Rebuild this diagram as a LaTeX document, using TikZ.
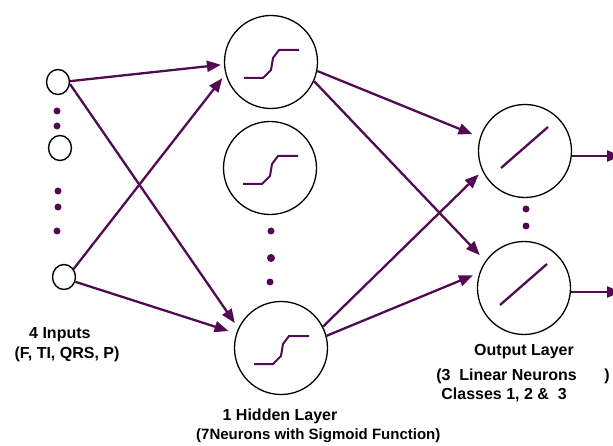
\documentclass[tikz,border=0pt]{standalone}
\usepackage{fontspec}
\setmainfont{Liberation Sans}
\usetikzlibrary{arrows.meta,shapes.geometric}
\definecolor{nnpurple}{RGB}{82,10,82}
\begin{document}
\begin{tikzpicture}[x=1pt,y=-1pt,
  inp/.style={ellipse,draw=black,line width=1.4pt,minimum width=23pt,minimum height=25pt,inner sep=0pt},
  neuron/.style={circle,draw=black,line width=1.3pt,minimum size=93pt,inner sep=0pt},
  conn/.style={draw=nnpurple,line width=2.3pt,-{Triangle[length=14pt,width=11pt]}},
  dotmark/.style={circle,fill=nnpurple,inner sep=0pt,minimum size=7pt},
  curve/.style={draw=nnpurple,line width=2pt},
  lbl/.style={font=\fontsize{16}{19}\selectfont\bfseries,inner sep=0pt},
  lblsmall/.style={font=\fontsize{15}{18}\selectfont\bfseries,inner sep=0pt}]
\clip (0,0) rectangle (613,446);
\useasboundingbox (0,0) rectangle (613,446);

% input nodes
\node[inp] (i1) at (58,82) {};
\node[inp] (i2) at (60,148) {};
\node[inp] (i3) at (64,277) {};
\foreach \n/\p in {a/{(57,111)},b/{(57,126)},c/{(58,191)},d/{(58,207)},e/{(57,231)}}
  \node[dotmark] (id\n) at \p {};

% hidden nodes
\node[neuron] (h1) at (271,62) {};
\node[neuron] (h2) at (270,168) {};
\node[neuron] (h3) at (281,348) {};
\node[dotmark] (hda) at (271,231) {};
\node[dotmark,minimum size=8pt] (hdb) at (271,258) {};
\node[dotmark] (hdc) at (270,282) {};
\foreach \h in {h1,h2,h3}
  \draw[curve] ([shift={(-27,16)}]\h.center) -- ([shift={(-8,16)}]\h.center)
     -- ([shift={(0,8)}]\h.center) -- ([shift={(2,-4)}]\h.center)
     -- ([shift={(8,-12)}]\h.center) -- ([shift={(28,-12)}]\h.center);

% output nodes
\node[neuron] (o1) at (525,151) {};
\node[neuron] (o2) at (524,288) {};
\node[dotmark] (oda) at (526,209) {};
\node[dotmark] (odb) at (526,226) {};
\foreach \o in {o1,o2}
  \draw[curve,line width=2.3pt] ([shift={(-24,17)}]\o.center) -- ([shift={(23,-24)}]\o.center);

% connectors input -> hidden
\draw[conn,shorten >=3pt] (i1.4) -- (h1.183);
\draw[conn,shorten >=5pt] (i3.40) -- (h1.195);
\draw[conn,shorten >=6pt] (i1.-10) -- (h3.155);
\draw[conn,shorten >=8pt] (i3.-23) -- (h3.162);

% connectors hidden -> output
\draw[conn,shorten >=8pt] (h1.-11) -- (o1.163);
\draw[conn,shorten >=8pt] (h1.-24) -- (o2.145);
\draw[conn,shorten >=5pt] (h3.27) -- (o1.205);
\draw[conn,shorten >=7pt] (h3.15) -- (o2.161);

% outputs
\coordinate (out1) at (621,156);
\coordinate (out2) at (621,292);
\draw[conn] (o1.east |- out1) -- (out1);
\draw[conn] (o2.east |- out2) -- (out2);

% labels
\node[lbl,anchor=west] (tin) at (29,335) {4 Inputs};
\node[lbl] (tin2) at (67,354) {(F, TI, QRS, P)};
\node[lbl] (thid) at (280,416) {1 Hidden Layer};
\node[lblsmall,anchor=west] (thid2) at (196,436) {(7Neurons with Sigmoid Function)};
\node[lbl] (tout) at (524,352) {Output Layer};
\node[lbl,anchor=east] (tout2) at (577,376) {(3\ \ Linear Neurons};
\node[lbl] (tout3) at (607,376) {)};
\node[lbl,anchor=east] (tout4) at (567,395) {Classes 1, 2 \&\ \ 3};
\end{tikzpicture}
\end{document}
